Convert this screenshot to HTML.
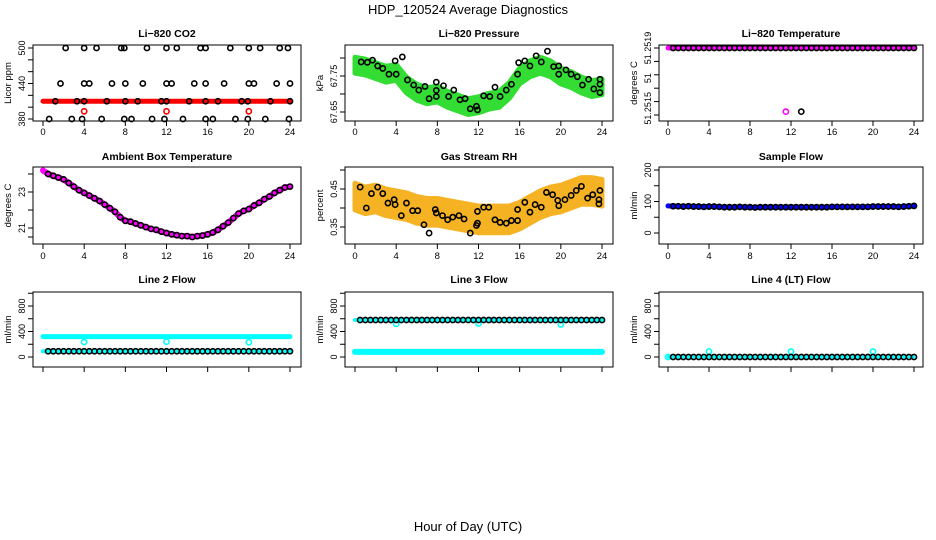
<!DOCTYPE html>
<html><head><meta charset="utf-8"><style>
html,body{margin:0;padding:0;background:#fff}
svg{display:block;font-family:"Liberation Sans",Arial,sans-serif}
</style></head><body>
<svg id="chart" width="936" height="540" viewBox="0 0 936 540">
<text x="468" y="14" text-anchor="middle" font-size="13">HDP_120524  Average Diagnostics</text>
<text x="468" y="531" text-anchor="middle" font-size="13">Hour of Day (UTC)</text>
</svg>
<script>
// ---- data ----
const xTicks = [0,4,8,12,16,20,24];
const hh = []; for (let i=0;i<=48;i++) hh.push(i/2); // half-hour time grid
const co2RedLevel = 410;
const co2RedT = [4,12,20];
const co2RedV = [393,393,393];
const co2T500 = [2.2,4,5.2,7.6,7.9,10.1,12,13,15.3,15.8,18.2,20,21.1,23,23.8];
const co2T440 = [1.7,4,4.5,6.7,8,9.7,12,12.5,14.7,15.8,17.6,20,20.5,22.7,24];
const co2T410 = [1.2,3.3,4,6.2,8,9.2,11.5,12,14.2,15.8,17,19.3,19.9,22.1,24];
const co2T380 = [0.6,2.8,3.8,5.7,7.9,8.6,10.6,11.8,13.6,15.8,16.5,18.7,19.9,21.6,23.9];
const presHourV = [67.78,67.775,67.765,67.755,67.76,67.725,67.705,67.695,67.70,67.685,67.675,67.665,67.67,67.68,67.685,67.71,67.75,67.77,67.78,67.77,67.75,67.74,67.725,67.715,67.72];
const presBlackT = [0.6,1.2,1.7,2.2,2.7,3.3,3.9,4.0,4.6,5.1,5.7,6.2,6.8,7.2,7.9,7.9,7.9,8.6,9.1,9.6,10.2,10.7,11.2,11.8,11.9,12.5,13.1,13.6,14.1,14.7,15.2,15.8,15.9,16.5,17.0,17.6,18.1,18.7,19.3,19.8,19.8,20.5,21.0,21.6,22.1,22.7,23.2,23.8,23.8,23.8];
const presBlackV = [67.789,67.788,67.794,67.778,67.771,67.755,67.792,67.755,67.803,67.739,67.725,67.711,67.721,67.687,67.733,67.71,67.693,67.723,67.693,67.711,67.684,67.687,67.659,67.666,67.656,67.695,67.693,67.719,67.693,67.711,67.727,67.755,67.787,67.792,67.778,67.806,67.789,67.819,67.776,67.778,67.755,67.767,67.755,67.748,67.725,67.741,67.714,67.727,67.741,67.704];
const ltempTop = 51.2519;
const ltempOutT = [11.5,13];
const ltempOutV = [51.25152,51.25152];
const ambientV = [24.2,24.0,23.9,23.8,23.7,23.5,23.3,23.1,22.95,22.8,22.65,22.5,22.3,22.1,21.9,21.6,21.4,21.35,21.25,21.15,21.05,20.95,20.9,20.8,20.72,20.65,20.6,20.55,20.55,20.5,20.55,20.58,20.65,20.75,20.9,21.1,21.3,21.55,21.8,21.95,22.05,22.25,22.4,22.6,22.75,22.95,23.1,23.25,23.3];
const rhHourV = [0.43,0.42,0.425,0.415,0.41,0.405,0.395,0.39,0.39,0.385,0.38,0.375,0.37,0.37,0.37,0.37,0.38,0.395,0.41,0.42,0.425,0.435,0.445,0.445,0.44];
const rhBlackT = [0.5,1.1,1.6,2.2,2.7,3.2,3.8,3.9,4.5,5.0,5.6,6.1,6.7,7.2,7.8,7.9,8.5,9.0,9.5,10.1,10.6,11.2,11.8,11.9,11.9,12.5,13.0,13.6,14.1,14.7,15.2,15.8,15.8,16.5,17.0,17.5,18.1,18.6,19.2,19.7,19.8,20.4,21.0,21.5,22.0,22.6,23.1,23.7,23.8,23.7];
const rhBlackV = [0.455,0.40,0.438,0.455,0.438,0.413,0.422,0.409,0.38,0.413,0.393,0.393,0.356,0.334,0.396,0.387,0.38,0.369,0.376,0.38,0.371,0.334,0.354,0.36,0.391,0.402,0.402,0.369,0.362,0.36,0.367,0.367,0.396,0.415,0.389,0.409,0.402,0.441,0.435,0.42,0.406,0.422,0.433,0.446,0.457,0.426,0.435,0.422,0.446,0.411];
const sampleV = [86,85,85,84,85,84,84,83,84,84,83,82,82,82,83,82,82,81,82,82,82,82,82,82,82,82,82,82,82,82,82,82,83,83,83,83,83,83,83,83,84,84,84,84,84,83,84,85,86];
const line2Cyan = 320;
const line2Black = 90;
const line2DipT = [4,12,20];
const line2DipV = [235,240,232];
const line3Black = 580;
const line3Cyan = 80;
const line3DipT = [4,12,20];
const line3DipV = [520,525,510];
const line4Black = 0;
const line4SpikeT = [4,12,20];
const line4SpikeV = [85,85,85];

// ---- layout ----
const NS='http://www.w3.org/2000/svg';
const svg=document.getElementById('chart');
function mk(tag,attrs,parent){const e=document.createElementNS(NS,tag);for(const k in attrs)e.setAttribute(k,attrs[k]);(parent||svg).appendChild(e);return e;}
const cols=[{bl:33,br:301,x0:43,x24:290},{bl:345,br:613,x0:355,x24:602},{bl:659,br:923,x0:668,x24:914}];
const rows=[{top:45,bot:121,title:37,lab:135},{top:167,bot:244,title:160,lab:259},{top:292,bot:367,title:283,lab:384}];
function xs(c){return t=>c.x0+(c.x24-c.x0)*t/24;}
function ys(v1,p1,v2,p2){return v=>p1+(v-v1)*(p2-p1)/(v2-v1);}

function panel(ci,ri,name,title,ylab,yScale,ticks,labels,xlabels){
  const c=cols[ci],r=rows[ri];
  const g=mk('g',{});
  
  
  const t=mk('text',{x:(c.bl+c.br)/2,y:r.title,'text-anchor':'middle','font-size':10.5,'font-weight':'bold'},g);
  t.textContent=title;
  
  
  const box=mk('rect',{x:c.bl,y:r.top,width:c.br-c.bl,height:r.bot-r.top,fill:'none',stroke:'#000','stroke-width':1},g);
  
  
  const X=xs(c);
  const xa=mk('g',{},g);
  
  
  mk('line',{x1:X(0),x2:X(24),y1:r.bot,y2:r.bot,stroke:'#000'},xa);
  xTicks.forEach(v=>{mk('line',{x1:X(v),x2:X(v),y1:r.bot,y2:r.bot+5,stroke:'#000'},xa);
    if(xlabels){const l=mk('text',{x:X(v),y:r.lab,'text-anchor':'middle','font-size':9.5},xa);l.textContent=v;}});
  const ya=mk('g',{},g);
  
  
  ticks.forEach(v=>mk('line',{x1:c.bl-5,x2:c.bl,y1:yScale(v),y2:yScale(v),stroke:'#000'},ya));
  labels.forEach(([v,s])=>{const yy=yScale(v);const l=mk('text',{x:c.bl-8,y:yy,'text-anchor':'middle','font-size':9,transform:`rotate(-90 ${c.bl-8} ${yy})`},ya);l.textContent=s;});
  const yl=mk('text',{x:c.bl-22,y:(r.top+r.bot)/2,'text-anchor':'middle','font-size':9.5,transform:`rotate(-90 ${c.bl-22} ${(r.top+r.bot)/2})`},g);
  yl.textContent=ylab;
  
  
  const d=mk('g',{},g);
  
  
  return {g:d,X};
}
function circ(p,x,y,col,w){mk('circle',{cx:x,cy:y,r:2.6,fill:'none',stroke:col,'stroke-width':w||1.6},p);}
function thick(p,pts,col,w){mk('polyline',{points:pts.map(q=>q.join(',')).join(' '),fill:'none',stroke:col,'stroke-width':w,'stroke-linejoin':'round','stroke-linecap':'round'},p);}
function band(p,X,Y,vals,half,col){
  const up=vals.map((v,i)=>[X(i),Y(v+half)]),lo=vals.map((v,i)=>[X(i),Y(v-half)]).reverse();
  mk('polygon',{points:up.concat(lo).map(q=>q.join(',')).join(' '),fill:col,stroke:col,'stroke-width':5,'stroke-linejoin':'round'},p);
}

// CO2
{const Y=ys(380,119,500,48);
 const P=panel(0,0,'co2-panel','Li\u2212820 CO2','Licor ppm',Y,[380,400,420,440,460,480,500],[[380,'380'],[440,'440'],[500,'500']],true);
 thick(P.g,[[P.X(0),Y(co2RedLevel)],[P.X(24),Y(co2RedLevel)]],'#ff0000',5);
 co2RedT.forEach((t,i)=>circ(P.g,P.X(t),Y(co2RedV[i]),'#ff0000'));
 [[co2T500,500],[co2T440,440],[co2T410,410],[co2T380,380]].forEach(([ts,v])=>ts.forEach(t=>circ(P.g,P.X(t),Y(v),'#000')));}
// Pressure
{const Y=ys(67.65,112,67.75,76);
 const P=panel(1,0,'pressure-panel','Li\u2212820 Pressure','kPa',Y,[67.65,67.7,67.75,67.8],[[67.65,'67.65'],[67.75,'67.75']],true);
 band(P.g,P.X,Y,presHourV,0.022,'#33dd33');
 presBlackT.forEach((t,i)=>circ(P.g,P.X(t),Y(presBlackV[i]),'#000'));}
// Li temp
{const Y=ys(51.2515,115,51.2519,48);
 const P=panel(2,0,'li-temperature-panel','Li\u2212820 Temperature','degrees C',Y,[51.2515,51.25158,51.25166,51.25174,51.25182,51.2519],[[51.25154,'51.2515'],[51.25172,'51'],[51.2519,'51.2519']],true);
 thick(P.g,[[P.X(0),Y(ltempTop)],[P.X(24),Y(ltempTop)]],'#ff00ff',5);
 hh.slice(1).forEach(t=>circ(P.g,P.X(t),Y(ltempTop),'#000'));
 circ(P.g,P.X(ltempOutT[0]),Y(ltempOutV[0]),'#ff00ff');circ(P.g,P.X(ltempOutT[1]),Y(ltempOutV[1]),'#000');}
// Ambient
{const Y=ys(21,228,23,192);
 const P=panel(0,1,'ambient-temperature-panel','Ambient Box Temperature','degrees C',Y,[20.5,21,22,23,24],[[21,'21'],[23,'23']],true);
 thick(P.g,ambientV.map((v,i)=>[P.X(hh[i]),Y(v)]),'#ff00ff',6);
 ambientV.forEach((v,i)=>{if(i>0)circ(P.g,P.X(hh[i]),Y(v),'#000');});}
// RH
{const Y=ys(0.35,227,0.45,189);
 const P=panel(1,1,'gas-stream-rh-panel','Gas Stream RH','percent',Y,[0.35,0.4,0.45,0.5],[[0.35,'0.35'],[0.45,'0.45']],true);
 band(P.g,P.X,Y,rhHourV,0.035,'#f5b324');
 rhBlackT.forEach((t,i)=>circ(P.g,P.X(t),Y(rhBlackV[i]),'#000'));}
// Sample flow
{const Y=ys(0,233,200,170);
 const P=panel(2,1,'sample-flow-panel','Sample Flow','ml/min',Y,[0,50,100,150,200],[[0,'0'],[100,'100'],[200,'200']],true);
 thick(P.g,sampleV.map((v,i)=>[P.X(hh[i]),Y(v)]),'#0000ff',5);
 sampleV.forEach((v,i)=>{if(i>0)circ(P.g,P.X(hh[i]),Y(v),'#000');});}
const fY=ys(0,357,800,306);
const fT=[0,200,400,600,800,1000];
const fL=[[0,'0'],[400,'400'],[800,'800']];
// Line 2
{const P=panel(0,2,'line2-flow-panel','Line 2 Flow','ml/min',fY,fT,fL,false);
 thick(P.g,[[P.X(0),fY(line2Cyan)],[P.X(24),fY(line2Cyan)]],'#00ffff',5);
 thick(P.g,[[P.X(0),fY(line2Black)],[P.X(24),fY(line2Black)]],'#00ffff',4);
 line2DipT.forEach((t,i)=>circ(P.g,P.X(t),fY(line2DipV[i]),'#00ffff'));
 hh.slice(1).forEach(t=>circ(P.g,P.X(t),fY(line2Black),'#000'));}
// Line 3
{const P=panel(1,2,'line3-flow-panel','Line 3 Flow','ml/min',fY,fT,fL,false);
 thick(P.g,[[P.X(0),fY(line3Cyan)],[P.X(24),fY(line3Cyan)]],'#00ffff',6);
 thick(P.g,[[P.X(0),fY(line3Black)],[P.X(24),fY(line3Black)]],'#00ffff',4);
 line3DipT.forEach((t,i)=>circ(P.g,P.X(t),fY(line3DipV[i]),'#00ffff'));
 hh.slice(1).forEach(t=>circ(P.g,P.X(t),fY(line3Black),'#000'));}
// Line 4
{const P=panel(2,2,'line4-flow-panel','Line 4 (LT) Flow','ml/min',fY,fT,fL,false);
 circ(P.g,P.X(0),fY(line4Black),'#00ffff');
 thick(P.g,[[P.X(0),fY(line4Black)],[P.X(24),fY(line4Black)]],'#00ffff',3);
 line4SpikeT.forEach((t,i)=>circ(P.g,P.X(t),fY(line4SpikeV[i]),'#00ffff'));
 hh.slice(1).forEach(t=>circ(P.g,P.X(t),fY(line4Black),'#000'));}
</script>
</body></html>
